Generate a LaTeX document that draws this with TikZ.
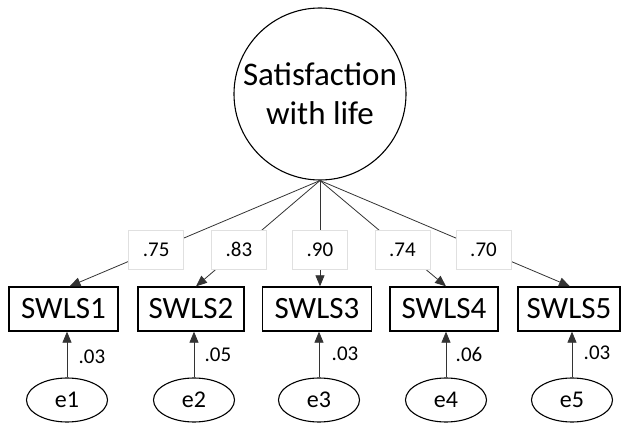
\documentclass[tikz,border=0pt]{standalone}
\usepackage{fontspec}
\setmainfont{Carlito}
\usetikzlibrary{arrows.meta,shapes.geometric}
\begin{document}
\begin{tikzpicture}[x=1pt,y=-1pt,
  latent/.style={circle,draw,line width=1.1pt,minimum size=172pt,inner sep=0pt,align=center,font=\fontsize{33}{39}\selectfont},
  obs/.style={rectangle,draw,line width=1.3pt,minimum height=44pt,inner sep=0pt,font=\fontsize{31}{36}\selectfont},
  err/.style={ellipse,draw,line width=1.1pt,minimum width=81pt,minimum height=44pt,inner sep=0pt,font=\fontsize{24}{28}\selectfont},
  lbl/.style={rectangle,draw=black!12,fill=white,minimum width=55pt,minimum height=39pt,inner sep=0pt,font=\fontsize{21}{24}\selectfont},
  val/.style={inner sep=0pt,font=\fontsize{21}{24}\selectfont},
  arr/.style={draw=black!80,line width=0.8pt,-{Triangle[length=11pt,width=9pt]}}]
\useasboundingbox (0,0) rectangle (622,425);
\node[latent] (F) at (320,94) {Satisfaction\\with life};
\node[obs,minimum width=109pt] (b1) at (63.5,309) {SWLS1};
\node[obs,minimum width=106pt] (b2) at (191,309) {SWLS2};
\node[obs,minimum width=109pt] (b3) at (317,309) {SWLS3};
\node[obs,minimum width=108pt] (b4) at (444,309) {SWLS4};
\node[obs,minimum width=102pt] (b5) at (569,309) {SWLS5};
\node[err] (e1) at (67,400) {e1};
\node[err] (e2) at (194,400) {e2};
\node[err] (e3) at (319,400) {e3};
\node[err] (e4) at (446,400) {e4};
\node[err] (e5) at (572,400) {e5};
\draw[arr] (F.south) -- node[lbl,pos=0.654] (l1) {.75} ([xshift=6pt]b1.north);
\draw[arr] (F.south) -- node[lbl,pos=0.654] (l2) {.83} ([xshift=5pt]b2.north);
\draw[arr] (F.south) -- node[lbl,pos=0.654] (l3) {.90} ([xshift=3pt]b3.north);
\draw[arr] (F.south) -- node[lbl,pos=0.654] (l4) {.74} ([xshift=2pt]b4.north);
\draw[arr] (F.south) -- node[lbl,pos=0.654] (l5) {.70} ([xshift=1pt]b5.north);
\draw[arr] (e1.north) -- ([xshift=3.5pt]b1.south);
\draw[arr] (e2.north) -- ([xshift=3pt]b2.south);
\draw[arr] (e3.north) -- ([xshift=2pt]b3.south);
\draw[arr] (e4.north) -- ([xshift=2pt]b4.south);
\draw[arr] (e5.north) -- ([xshift=3pt]b5.south);
\node[val] (r1) at (92,357) {.03};
\node[val] (r2) at (218,355) {.05};
\node[val] (r3) at (345,354) {.03};
\node[val] (r4) at (469,354) {.06};
\node[val] (r5) at (597,353) {.03};
\end{tikzpicture}
\end{document}
